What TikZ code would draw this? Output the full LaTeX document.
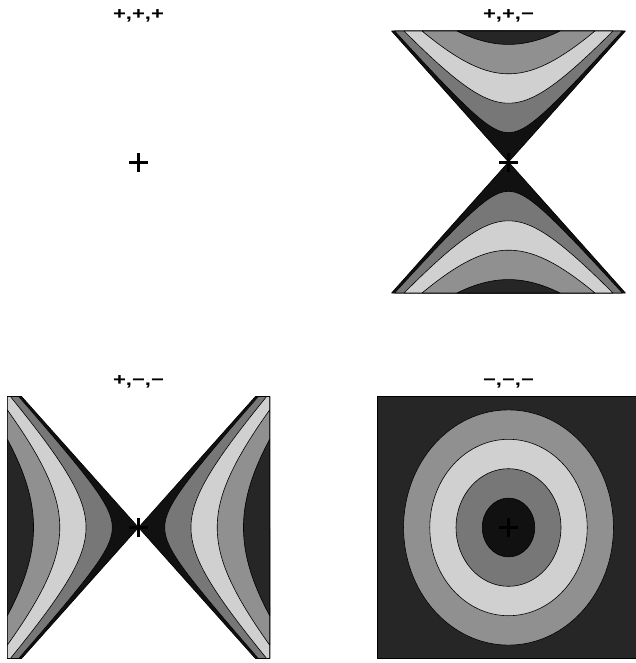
\documentclass[tikz,border=0pt]{standalone}
\usepackage{fontspec}
\usepackage{graphicx}
\setmainfont{Liberation Sans}
\definecolor{c0}{HTML}{111111}
\definecolor{c1}{HTML}{777777}
\definecolor{c2}{HTML}{D0D0D0}
\definecolor{c3}{HTML}{909090}
\definecolor{c4}{HTML}{262626}
\newcommand{\ttltext}[1]{\scalebox{1.3}[1]{\bfseries\fontsize{17}{17}\selectfont #1}}
\begin{document}
\begin{tikzpicture}[x=1pt,y=1pt,
  band/.style={draw=black,line width=0.6pt,line join=round},
  ttl/.style={anchor=base,inner sep=0pt},
  crossmark/.style={line width=2.2pt}]
\useasboundingbox (0,0) rectangle (636,-663);
\def\T{4.456}
% ---------- top-right: +,+,-
\begin{scope}[shift={(508.5pt,-162pt)},x=26.24pt,y=29.4pt]
 \foreach \s in {1,-1}{
  \begin{scope}[yscale=\s]
   \filldraw[band,fill=c0] (0,0) -- (-\T,\T) -- (\T,\T) -- cycle;
   \foreach \k/\col in {1/c1,2/c2,3/c3,4/c4}{
     \pgfmathsetmacro\xm{sqrt(\T*\T-\k*\k)}
     \filldraw[band,fill=\col] plot[domain=-\xm:\xm,samples=120] (\x,{sqrt(\x*\x+\k*\k)}) -- cycle;
   }
  \end{scope}
 }
\end{scope}
% ---------- bottom-left: +,-,-
\begin{scope}[shift={(138.5pt,-527.5pt)},x=26.24pt,y=29.4pt]
 \foreach \s in {1,-1}{
  \begin{scope}[xscale=\s]
   \filldraw[band,fill=c0] (0,0) -- (\T,\T) -- (5,\T) -- (5,-\T) -- (\T,-\T) -- cycle;
   \foreach \k/\col in {1/c1,2/c2}{
     \filldraw[band,fill=\col] plot[domain=-\T:\T,samples=120] ({sqrt(\x*\x+\k*\k)},\x) -- (5,\T) -- (5,-\T) -- cycle;
   }
   \foreach \k/\col in {3/c3,4/c4}{
     \pgfmathsetmacro\tm{sqrt(25-\k*\k)}
     \filldraw[band,fill=\col] plot[domain=-\tm:\tm,samples=120] ({sqrt(\x*\x+\k*\k)},\x) -- cycle;
   }
  \end{scope}
 }
\end{scope}
% ---------- bottom-right: -,-,-
\begin{scope}[shift={(508.5pt,-527.5pt)}]
 \filldraw[band,fill=c4] (-131.2pt,-131pt) rectangle (131.2pt,131pt);
 \filldraw[band,fill=c3] (0,0) ellipse [x radius=104.96pt,y radius=117.6pt];
 \filldraw[band,fill=c2] (0,0) ellipse [x radius=78.72pt,y radius=88.2pt];
 \filldraw[band,fill=c1] (0,0) ellipse [x radius=52.48pt,y radius=58.8pt];
 \filldraw[band,fill=c0] (0,0) ellipse [x radius=26.24pt,y radius=29.4pt];
\end{scope}
% ---------- centre marks
\coordinate (m1) at (138.5,-162.5);
\coordinate (m2) at (508.5,-162.5);
\coordinate (m3) at (138.5,-527.5);
\coordinate (m4) at (508.5,-527.5);
\foreach \m in {m1,m2,m3,m4}{
  \draw[crossmark] ([xshift=-9.5pt]\m) -- ([xshift=9.5pt]\m);
  \draw[crossmark] ([yshift=-9.5pt]\m) -- ([yshift=9.5pt]\m);
}
% ---------- titles
\node[ttl] (t1) at (138.5,-19.5) {\ttltext{+,+,+}};
\node[ttl] (t2) at (508.5,-19.5) {\ttltext{+,+,−}};
\node[ttl] (t3) at (138.5,-385) {\ttltext{+,−,−}};
\node[ttl] (t4) at (508.5,-385) {\ttltext{−,−,−}};
\end{tikzpicture}
\end{document}
